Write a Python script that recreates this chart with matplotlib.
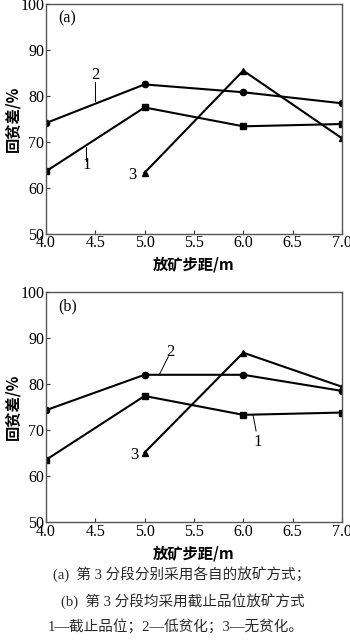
import matplotlib
matplotlib.use('Agg')
import matplotlib.pyplot as plt

plt.rcParams['font.family'] = ['Liberation Serif', 'Noto Sans CJK SC']
plt.rcParams['mathtext.fontset'] = 'stix'

step = [4.0, 5.0, 6.0, 7.0]
step3 = [5.0, 6.0, 7.0]

# (a) each mode used in section 3
a_cut = [63.6, 77.5, 73.4, 73.9]
a_low = [74.1, 82.5, 80.8, 78.4]
a_none = [63.3, 85.5, 70.8]

# (b) cut-off grade used in section 3
b_cut = [63.5, 77.4, 73.3, 73.8]
b_low = [74.3, 82.0, 82.0, 78.5]
b_none = [65.1, 86.8, 79.4]

xticks = [4.0, 4.5, 5.0, 5.5, 6.0, 6.5, 7.0]
yticks = [50, 60, 70, 80, 90, 100]

cjk = ['Noto Sans CJK SC', 'DejaVu Sans']

fig = plt.figure(figsize=(3.5, 6.43), dpi=100)
ax1 = fig.add_axes([0.131, 0.636, 0.846, 0.358])
ax2 = fig.add_axes([0.131, 0.188, 0.846, 0.358])


def setup(ax, tag):
    ax.set_xlim(4.0, 7.0)
    ax.set_ylim(50, 100)
    ax.set_xticks(xticks)
    ax.set_xticklabels(['%.1f' % t for t in xticks])
    ax.set_yticks(yticks)
    ax.tick_params(direction='in', length=3, width=0.8, labelsize=11.5, pad=1,
                   color='#333333')
    for s in ax.spines.values():
        s.set_linewidth(1.0)
        s.set_color('#555555')
    ax.set_xlabel('放矿步距/m', family=cjk, fontweight='bold', fontsize=11,
                  labelpad=4)
    ax.set_ylabel('回贫差/%', family=cjk, fontweight='bold', fontsize=11,
                  labelpad=0)
    ax.text(4.13, 96.9, tag, fontsize=11.5, va='center', ha='left')


def draw(ax, cut, low, none):
    kw = dict(color='black', lw=1.5, ms=4.5)
    ax.plot(step, cut, marker='s', **kw)
    ax.plot(step, low, marker='o', **kw)
    ax.plot(step3, none, marker='^', **kw)


draw(ax1, a_cut, a_low, a_none)
setup(ax1, '(a)')
ax1.plot([4.5, 4.5], [83.0, 78.9], color='black', lw=0.7)
ax1.text(4.5, 84.6, '2', fontsize=12, ha='center', va='center')
ax1.plot([4.41, 4.41], [69.0, 65.8], color='black', lw=0.7)
ax1.text(4.41, 64.9, '1', fontsize=12, ha='center', va='center')
ax1.text(4.88, 62.8, '3', fontsize=12, ha='center', va='center')

draw(ax2, b_cut, b_low, b_none)
setup(ax2, '(b)')
ax2.plot([5.24, 5.15], [85.9, 82.05], color='black', lw=0.7)
ax2.text(5.26, 87.0, '2', fontsize=12, ha='center', va='center')
ax2.plot([6.13, 6.10], [69.8, 73.2], color='black', lw=0.7)
ax2.text(6.15, 67.3, '1', fontsize=12, ha='center', va='center')
ax2.text(4.90, 64.5, '3', fontsize=12, ha='center', va='center')

cap_kw = dict(ha='center', va='center', fontsize=10.5, color='#2a2a2a',
              family=['Liberation Serif', 'Noto Sans CJK SC'])
fig.text(0.52, 1 - 575 / 643, '(a)  第 3 分段分别采用各自的放矿方式；', **cap_kw)
fig.text(0.523, 1 - 602 / 643, '(b)  第 3 分段均采用截止品位放矿方式', **cap_kw)
fig.text(0.503, 1 - 627 / 643, '1—截止品位；2—低贫化；3—无贫化。', **cap_kw)

fig.savefig('out.png', dpi=100, facecolor='white')
